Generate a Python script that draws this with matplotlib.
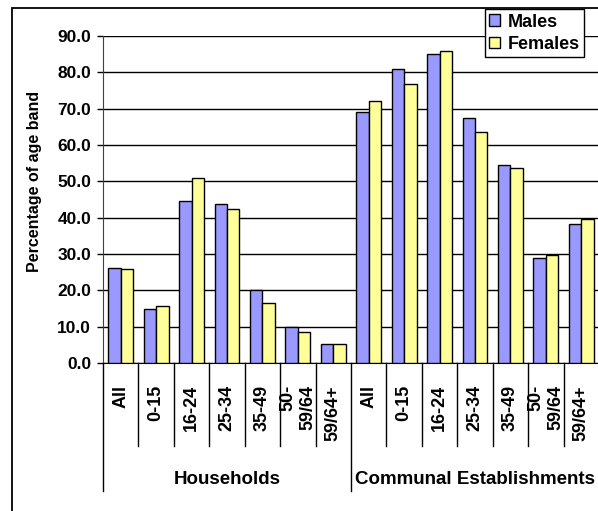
import matplotlib
matplotlib.use("Agg")
from matplotlib import pyplot as plt
from matplotlib.patches import Rectangle
from matplotlib.transforms import blended_transform_factory
import numpy as np

plt.rcParams['font.family'] = ['Liberation Sans', 'DejaVu Sans']
plt.rcParams['font.weight'] = 'bold'

age_bands = ["All", "0-15", "16-24", "25-34", "35-49", "50-\n59/64", "59/64+"]
groups = ["Households", "Communal Establishments"]
males = [26.1, 14.8, 44.6, 43.7, 20.0, 10.0, 5.1,
         69.0, 81.0, 85.0, 67.3, 54.4, 28.8, 38.3]
females = [25.9, 15.8, 50.8, 42.5, 16.4, 8.6, 5.1,
           72.0, 76.9, 85.9, 63.5, 53.8, 29.8, 39.6]
tick_labels = age_bands + age_bands

W, H = 598, 511
fig = plt.figure(figsize=(W / 100, H / 100), dpi=100)
fig.patch.set_facecolor('white')

# plot area in pixels: left 103, right 598, top 36, bottom 363
ax = fig.add_axes([103 / W, (H - 363) / H, 496 / W, 327 / H])

x = np.arange(len(males))
bw = 0.35
ax.bar(x - bw / 2, males, bw, color='#9999FF', edgecolor='black', linewidth=1.0,
       label='Males', zorder=3)
ax.bar(x + bw / 2, females, bw, color='#FFFF99', edgecolor='black', linewidth=1.0,
       label='Females', zorder=3)

ax.set_xlim(-0.5, len(males) - 0.5)
ax.set_ylim(0, 90)
ax.set_yticks(np.arange(0, 91, 10))
ax.set_yticklabels([f"{v:.1f}" for v in np.arange(0, 91, 10)], fontsize=12.5, fontweight='bold')
ax.yaxis.grid(True, color='black', linewidth=1.0, zorder=0)
ax.set_axisbelow(True)
ax.tick_params(axis='y', direction='out', length=4.5, width=1, pad=4)

for side in ['top', 'right']:
    ax.spines[side].set_visible(False)
ax.spines['left'].set_color('#404040')
ax.spines['bottom'].set_color('black')

ax.set_xticks(x)
ax.set_xticklabels(tick_labels, rotation=90, fontsize=13, fontweight='bold',
                   va='top', ha='center', multialignment='right')
ax.tick_params(axis='x', length=0, pad=16)

# category dividers below the axis
trans = blended_transform_factory(ax.transData, ax.transAxes)
n_per = len(age_bands)
for k in range(len(males) + 1):
    xd = k - 0.5
    low = -0.392 if k % n_per == 0 else -0.254
    ax.plot([xd, xd], [0, low], color='black', linewidth=1, transform=trans, clip_on=False)

for i, g in enumerate(groups):
    cx = i * n_per + (n_per - 1) / 2
    ax.text(cx, -0.355, g, transform=trans, ha='center', va='center',
            fontsize=13.5, fontweight='bold')

ax.text(-0.138, 0.555, "Percentage of age band", transform=ax.transAxes,
        rotation=90, ha='center', va='center', fontsize=11.5, fontweight='bold')

leg = fig.legend(loc='upper right', bbox_to_anchor=(584 / W, 1 - 9 / H),
                 fontsize=13, frameon=True, fancybox=False, edgecolor='black',
                 framealpha=1, borderpad=0.25, labelspacing=0.3,
                 handlelength=0.6, handleheight=0.6, handletextpad=0.4,
                 borderaxespad=0)
leg.get_frame().set_linewidth(1)
for t in leg.get_texts():
    t.set_fontweight('bold')

# outer chart frame (cropped on the right and bottom)
fig.add_artist(Rectangle((12 / W, -0.2), 1.2, (H - 8) / H + 0.2,
                         transform=fig.transFigure, fill=False,
                         edgecolor='black', linewidth=1.3, clip_on=False))

fig.savefig("out.png", dpi=100)
